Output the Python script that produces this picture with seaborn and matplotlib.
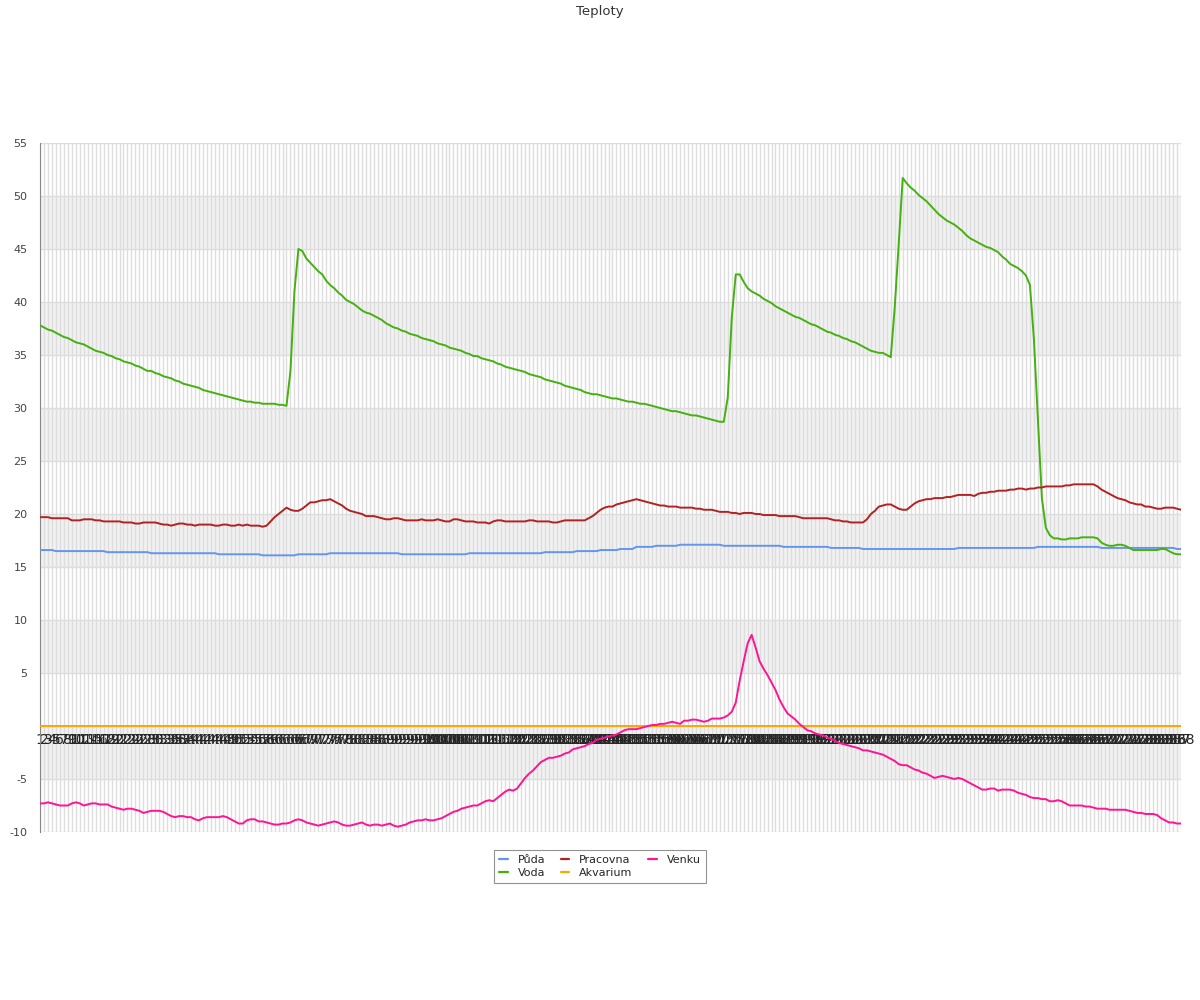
import matplotlib
matplotlib.use("Agg")
import matplotlib.pyplot as plt
import pandas as pd
import seaborn as sns
from matplotlib.ticker import MultipleLocator

# x categories: measurement number 1..288
labels = [str(n) for n in range(1, 289)]

puda = [
    16.6, 16.6, 16.6, 16.6, 16.5, 16.5, 16.5, 16.5, 16.5, 16.5,
    16.5, 16.5, 16.5, 16.5, 16.5, 16.5, 16.5, 16.4, 16.4, 16.4,
    16.4, 16.4, 16.4, 16.4, 16.4, 16.4, 16.4, 16.4, 16.3, 16.3,
    16.3, 16.3, 16.3, 16.3, 16.3, 16.3, 16.3, 16.3, 16.3, 16.3,
    16.3, 16.3, 16.3, 16.3, 16.3, 16.2, 16.2, 16.2, 16.2, 16.2,
    16.2, 16.2, 16.2, 16.2, 16.2, 16.2, 16.1, 16.1, 16.1, 16.1,
    16.1, 16.1, 16.1, 16.1, 16.1, 16.2, 16.2, 16.2, 16.2, 16.2,
    16.2, 16.2, 16.2, 16.3, 16.3, 16.3, 16.3, 16.3, 16.3, 16.3,
    16.3, 16.3, 16.3, 16.3, 16.3, 16.3, 16.3, 16.3, 16.3, 16.3,
    16.3, 16.2, 16.2, 16.2, 16.2, 16.2, 16.2, 16.2, 16.2, 16.2,
    16.2, 16.2, 16.2, 16.2, 16.2, 16.2, 16.2, 16.2, 16.3, 16.3,
    16.3, 16.3, 16.3, 16.3, 16.3, 16.3, 16.3, 16.3, 16.3, 16.3,
    16.3, 16.3, 16.3, 16.3, 16.3, 16.3, 16.3, 16.4, 16.4, 16.4,
    16.4, 16.4, 16.4, 16.4, 16.4, 16.5, 16.5, 16.5, 16.5, 16.5,
    16.5, 16.6, 16.6, 16.6, 16.6, 16.6, 16.7, 16.7, 16.7, 16.7,
    16.9, 16.9, 16.9, 16.9, 16.9, 17.0, 17.0, 17.0, 17.0, 17.0,
    17.0, 17.1, 17.1, 17.1, 17.1, 17.1, 17.1, 17.1, 17.1, 17.1,
    17.1, 17.1, 17.0, 17.0, 17.0, 17.0, 17.0, 17.0, 17.0, 17.0,
    17.0, 17.0, 17.0, 17.0, 17.0, 17.0, 17.0, 16.9, 16.9, 16.9,
    16.9, 16.9, 16.9, 16.9, 16.9, 16.9, 16.9, 16.9, 16.9, 16.8,
    16.8, 16.8, 16.8, 16.8, 16.8, 16.8, 16.8, 16.7, 16.7, 16.7,
    16.7, 16.7, 16.7, 16.7, 16.7, 16.7, 16.7, 16.7, 16.7, 16.7,
    16.7, 16.7, 16.7, 16.7, 16.7, 16.7, 16.7, 16.7, 16.7, 16.7,
    16.7, 16.8, 16.8, 16.8, 16.8, 16.8, 16.8, 16.8, 16.8, 16.8,
    16.8, 16.8, 16.8, 16.8, 16.8, 16.8, 16.8, 16.8, 16.8, 16.8,
    16.8, 16.9, 16.9, 16.9, 16.9, 16.9, 16.9, 16.9, 16.9, 16.9,
    16.9, 16.9, 16.9, 16.9, 16.9, 16.9, 16.9, 16.8, 16.8, 16.8,
    16.8, 16.8, 16.8, 16.8, 16.8, 16.8, 16.8, 16.8, 16.8, 16.8,
    16.8, 16.8, 16.8, 16.8, 16.8, 16.8, 16.7, 16.7,
]

voda = [
    37.8, 37.6, 37.4, 37.3, 37.1, 36.9, 36.7, 36.6, 36.4, 36.2,
    36.1, 36.0, 35.8, 35.6, 35.4, 35.3, 35.2, 35.0, 34.9, 34.7,
    34.6, 34.4, 34.3, 34.2, 34.0, 33.9, 33.7, 33.5, 33.5, 33.3,
    33.2, 33.0, 32.9, 32.8, 32.6, 32.5, 32.3, 32.2, 32.1, 32.0,
    31.9, 31.7, 31.6, 31.5, 31.4, 31.3, 31.2, 31.1, 31.0, 30.9,
    30.8, 30.7, 30.6, 30.6, 30.5, 30.5, 30.4, 30.4, 30.4, 30.4,
    30.3, 30.3, 30.2, 33.5, 41.0, 45.0, 44.8, 44.1, 43.7, 43.3,
    42.9, 42.6, 42.0, 41.6, 41.3, 40.9, 40.6, 40.2, 40.0, 39.8,
    39.5, 39.2, 39.0, 38.9, 38.7, 38.5, 38.3, 38.0, 37.8, 37.6,
    37.5, 37.3, 37.2, 37.0, 36.9, 36.8, 36.6, 36.5, 36.4, 36.3,
    36.1, 36.0, 35.9, 35.7, 35.6, 35.5, 35.4, 35.2, 35.1, 34.9,
    34.9, 34.7, 34.6, 34.5, 34.4, 34.2, 34.1, 33.9, 33.8, 33.7,
    33.6, 33.5, 33.4, 33.2, 33.1, 33.0, 32.9, 32.7, 32.6, 32.5,
    32.4, 32.3, 32.1, 32.0, 31.9, 31.8, 31.7, 31.5, 31.4, 31.3,
    31.3, 31.2, 31.1, 31.0, 30.9, 30.9, 30.8, 30.7, 30.6, 30.6,
    30.5, 30.4, 30.4, 30.3, 30.2, 30.1, 30.0, 29.9, 29.8, 29.7,
    29.7, 29.6, 29.5, 29.4, 29.3, 29.3, 29.2, 29.1, 29.0, 28.9,
    28.8, 28.7, 28.7, 31.0, 38.5, 42.6, 42.6, 41.9, 41.3, 41.0,
    40.8, 40.6, 40.3, 40.1, 39.9, 39.6, 39.4, 39.2, 39.0, 38.8,
    38.6, 38.5, 38.3, 38.1, 37.9, 37.8, 37.6, 37.4, 37.2, 37.1,
    36.9, 36.8, 36.6, 36.5, 36.3, 36.2, 36.0, 35.8, 35.6, 35.4,
    35.3, 35.2, 35.2, 35.0, 34.8, 39.5, 45.5, 51.7, 51.2, 50.8,
    50.5, 50.1, 49.8, 49.5, 49.1, 48.7, 48.3, 48.0, 47.7, 47.5,
    47.3, 47.0, 46.7, 46.3, 46.0, 45.8, 45.6, 45.4, 45.2, 45.1,
    44.9, 44.7, 44.3, 44.0, 43.6, 43.4, 43.2, 42.9, 42.5, 41.6,
    36.5, 29.0, 21.5, 18.7, 18.0, 17.7, 17.7, 17.6, 17.6, 17.7,
    17.7, 17.7, 17.8, 17.8, 17.8, 17.8, 17.7, 17.3, 17.1, 17.0,
    17.0, 17.1, 17.1, 17.0, 16.8, 16.6, 16.6, 16.6, 16.6, 16.6,
    16.6, 16.6, 16.7, 16.7, 16.5, 16.3, 16.2, 16.2,
]

pracovna = [
    19.7, 19.7, 19.7, 19.6, 19.6, 19.6, 19.6, 19.6, 19.4, 19.4,
    19.4, 19.5, 19.5, 19.5, 19.4, 19.4, 19.3, 19.3, 19.3, 19.3,
    19.3, 19.2, 19.2, 19.2, 19.1, 19.1, 19.2, 19.2, 19.2, 19.2,
    19.1, 19.0, 19.0, 18.9, 19.0, 19.1, 19.1, 19.0, 19.0, 18.9,
    19.0, 19.0, 19.0, 19.0, 18.9, 18.9, 19.0, 19.0, 18.9, 18.9,
    19.0, 18.9, 19.0, 18.9, 18.9, 18.9, 18.8, 18.9, 19.3, 19.7,
    20.0, 20.3, 20.6, 20.4, 20.3, 20.3, 20.5, 20.8, 21.1, 21.1,
    21.2, 21.3, 21.3, 21.4, 21.2, 21.0, 20.8, 20.5, 20.3, 20.2,
    20.1, 20.0, 19.8, 19.8, 19.8, 19.7, 19.6, 19.5, 19.5, 19.6,
    19.6, 19.5, 19.4, 19.4, 19.4, 19.4, 19.5, 19.4, 19.4, 19.4,
    19.5, 19.4, 19.3, 19.3, 19.5, 19.5, 19.4, 19.3, 19.3, 19.3,
    19.2, 19.2, 19.2, 19.1, 19.3, 19.4, 19.4, 19.3, 19.3, 19.3,
    19.3, 19.3, 19.3, 19.4, 19.4, 19.3, 19.3, 19.3, 19.3, 19.2,
    19.2, 19.3, 19.4, 19.4, 19.4, 19.4, 19.4, 19.4, 19.6, 19.8,
    20.1, 20.4, 20.6, 20.7, 20.7, 20.9, 21.0, 21.1, 21.2, 21.3,
    21.4, 21.3, 21.2, 21.1, 21.0, 20.9, 20.8, 20.8, 20.7, 20.7,
    20.7, 20.6, 20.6, 20.6, 20.6, 20.5, 20.5, 20.4, 20.4, 20.4,
    20.3, 20.2, 20.2, 20.2, 20.1, 20.1, 20.0, 20.1, 20.1, 20.1,
    20.0, 20.0, 19.9, 19.9, 19.9, 19.9, 19.8, 19.8, 19.8, 19.8,
    19.8, 19.7, 19.6, 19.6, 19.6, 19.6, 19.6, 19.6, 19.6, 19.5,
    19.4, 19.4, 19.3, 19.3, 19.2, 19.2, 19.2, 19.2, 19.5, 20.0,
    20.3, 20.7, 20.8, 20.9, 20.9, 20.7, 20.5, 20.4, 20.4, 20.7,
    21.0, 21.2, 21.3, 21.4, 21.4, 21.5, 21.5, 21.5, 21.6, 21.6,
    21.7, 21.8, 21.8, 21.8, 21.8, 21.7, 21.9, 22.0, 22.0, 22.1,
    22.1, 22.2, 22.2, 22.2, 22.3, 22.3, 22.4, 22.4, 22.3, 22.4,
    22.4, 22.5, 22.5, 22.6, 22.6, 22.6, 22.6, 22.6, 22.7, 22.7,
    22.8, 22.8, 22.8, 22.8, 22.8, 22.8, 22.6, 22.3, 22.1, 21.9,
    21.7, 21.5, 21.4, 21.3, 21.1, 21.0, 20.9, 20.9, 20.7, 20.7,
    20.6, 20.5, 20.5, 20.6, 20.6, 20.6, 20.5, 20.4,
]

akvarium = [
    0.0, 0.0, 0.0, 0.0, 0.0, 0.0, 0.0, 0.0, 0.0, 0.0, 0.0, 0.0, 0.0, 0.0, 0.0, 0.0, 0.0, 0.0, 0.0, 0.0, 0.0, 0.0, 0.0, 0.0,
    0.0, 0.0, 0.0, 0.0, 0.0, 0.0, 0.0, 0.0, 0.0, 0.0, 0.0, 0.0, 0.0, 0.0, 0.0, 0.0, 0.0, 0.0, 0.0, 0.0, 0.0, 0.0, 0.0, 0.0,
    0.0, 0.0, 0.0, 0.0, 0.0, 0.0, 0.0, 0.0, 0.0, 0.0, 0.0, 0.0, 0.0, 0.0, 0.0, 0.0, 0.0, 0.0, 0.0, 0.0, 0.0, 0.0, 0.0, 0.0,
    0.0, 0.0, 0.0, 0.0, 0.0, 0.0, 0.0, 0.0, 0.0, 0.0, 0.0, 0.0, 0.0, 0.0, 0.0, 0.0, 0.0, 0.0, 0.0, 0.0, 0.0, 0.0, 0.0, 0.0,
    0.0, 0.0, 0.0, 0.0, 0.0, 0.0, 0.0, 0.0, 0.0, 0.0, 0.0, 0.0, 0.0, 0.0, 0.0, 0.0, 0.0, 0.0, 0.0, 0.0, 0.0, 0.0, 0.0, 0.0,
    0.0, 0.0, 0.0, 0.0, 0.0, 0.0, 0.0, 0.0, 0.0, 0.0, 0.0, 0.0, 0.0, 0.0, 0.0, 0.0, 0.0, 0.0, 0.0, 0.0, 0.0, 0.0, 0.0, 0.0,
    0.0, 0.0, 0.0, 0.0, 0.0, 0.0, 0.0, 0.0, 0.0, 0.0, 0.0, 0.0, 0.0, 0.0, 0.0, 0.0, 0.0, 0.0, 0.0, 0.0, 0.0, 0.0, 0.0, 0.0,
    0.0, 0.0, 0.0, 0.0, 0.0, 0.0, 0.0, 0.0, 0.0, 0.0, 0.0, 0.0, 0.0, 0.0, 0.0, 0.0, 0.0, 0.0, 0.0, 0.0, 0.0, 0.0, 0.0, 0.0,
    0.0, 0.0, 0.0, 0.0, 0.0, 0.0, 0.0, 0.0, 0.0, 0.0, 0.0, 0.0, 0.0, 0.0, 0.0, 0.0, 0.0, 0.0, 0.0, 0.0, 0.0, 0.0, 0.0, 0.0,
    0.0, 0.0, 0.0, 0.0, 0.0, 0.0, 0.0, 0.0, 0.0, 0.0, 0.0, 0.0, 0.0, 0.0, 0.0, 0.0, 0.0, 0.0, 0.0, 0.0, 0.0, 0.0, 0.0, 0.0,
    0.0, 0.0, 0.0, 0.0, 0.0, 0.0, 0.0, 0.0, 0.0, 0.0, 0.0, 0.0, 0.0, 0.0, 0.0, 0.0, 0.0, 0.0, 0.0, 0.0, 0.0, 0.0, 0.0, 0.0,
    0.0, 0.0, 0.0, 0.0, 0.0, 0.0, 0.0, 0.0, 0.0, 0.0, 0.0, 0.0, 0.0, 0.0, 0.0, 0.0, 0.0, 0.0, 0.0, 0.0, 0.0, 0.0, 0.0, 0.0,
]

venku = [
    -7.3, -7.3, -7.2, -7.3, -7.4, -7.5, -7.5, -7.5, -7.3, -7.2,
    -7.3, -7.5, -7.4, -7.3, -7.3, -7.4, -7.4, -7.4, -7.6, -7.7,
    -7.8, -7.9, -7.8, -7.8, -7.9, -8.0, -8.2, -8.1, -8.0, -8.0,
    -8.0, -8.1, -8.3, -8.5, -8.6, -8.5, -8.5, -8.6, -8.6, -8.8,
    -8.9, -8.7, -8.6, -8.6, -8.6, -8.6, -8.5, -8.6, -8.8, -9.0,
    -9.2, -9.2, -8.9, -8.8, -8.8, -9.0, -9.0, -9.1, -9.2, -9.3,
    -9.3, -9.2, -9.2, -9.1, -8.9, -8.8, -8.9, -9.1, -9.2, -9.3,
    -9.4, -9.3, -9.2, -9.1, -9.0, -9.1, -9.3, -9.4, -9.4, -9.3,
    -9.2, -9.1, -9.3, -9.4, -9.3, -9.3, -9.4, -9.3, -9.2, -9.4,
    -9.5, -9.4, -9.3, -9.1, -9.0, -8.9, -8.9, -8.8, -8.9, -8.9,
    -8.8, -8.7, -8.5, -8.3, -8.1, -8.0, -7.8, -7.7, -7.6, -7.5,
    -7.5, -7.3, -7.1, -7.0, -7.1, -6.8, -6.5, -6.2, -6.0, -6.1,
    -5.9, -5.4, -4.9, -4.5, -4.2, -3.8, -3.4, -3.2, -3.0, -3.0,
    -2.9, -2.8, -2.6, -2.5, -2.2, -2.1, -2.0, -1.9, -1.7, -1.6,
    -1.3, -1.2, -1.1, -1.0, -0.9, -0.8, -0.6, -0.4, -0.3, -0.3,
    -0.3, -0.2, -0.1, 0.0, 0.1, 0.1, 0.2, 0.2, 0.3, 0.4,
    0.3, 0.2, 0.5, 0.5, 0.6, 0.6, 0.5, 0.4, 0.5, 0.7,
    0.7, 0.7, 0.8, 1.0, 1.35, 2.2, 4.3, 6.1, 7.8, 8.6,
    7.4, 6.1, 5.4, 4.8, 4.1, 3.4, 2.5, 1.8, 1.2, 0.9,
    0.6, 0.2, -0.1, -0.4, -0.5, -0.7, -0.8, -0.9, -1.1, -1.2,
    -1.4, -1.6, -1.7, -1.8, -1.9, -2.0, -2.1, -2.3, -2.3, -2.4,
    -2.5, -2.6, -2.7, -2.9, -3.1, -3.3, -3.6, -3.7, -3.7, -3.9,
    -4.1, -4.2, -4.4, -4.5, -4.7, -4.9, -4.8, -4.7, -4.8, -4.9,
    -5.0, -4.9, -5.0, -5.2, -5.4, -5.6, -5.8, -6.0, -6.0, -5.9,
    -5.9, -6.1, -6.0, -6.0, -6.0, -6.1, -6.3, -6.4, -6.5, -6.7,
    -6.8, -6.8, -6.9, -6.9, -7.1, -7.1, -7.0, -7.1, -7.3, -7.5,
    -7.5, -7.5, -7.5, -7.6, -7.6, -7.7, -7.8, -7.8, -7.8, -7.9,
    -7.9, -7.9, -7.9, -7.9, -8.0, -8.1, -8.2, -8.2, -8.3, -8.3,
    -8.3, -8.4, -8.7, -8.9, -9.1, -9.1, -9.2, -9.2,
]

series = {
    "Půda": puda,
    "Voda": voda,
    "Pracovna": pracovna,
    "Akvarium": akvarium,
    "Venku": venku,
}
colors = {
    "Půda": "#6495ed",
    "Voda": "#45b010",
    "Pracovna": "#b22222",
    "Akvarium": "#ffa500",
    "Venku": "#ff1493",
}

frames = []
for name, vals in series.items():
    assert len(vals) == len(labels), (name, len(vals))
    frames.append(pd.DataFrame({"idx": range(len(vals)), "teplota": vals, "cidlo": name}))
df = pd.concat(frames, ignore_index=True)

sns.set_style("white")
plt.rcParams["font.family"] = ["DejaVu Sans"]

fig = plt.figure(figsize=(12, 10), dpi=100)
ax = fig.add_axes([40 / 1200, 0.168, 1141 / 1200, 0.689])

# alternating grey bands
for lo in (-5, 5, 15, 25, 35, 45):
    ax.axhspan(lo, lo + 5, color="#f2f2f2", lw=0, zorder=0.1)

sns.lineplot(data=df, x="idx", y="teplota", hue="cidlo", hue_order=list(series),
             palette=colors, linewidth=1.4, errorbar=None, ax=ax, zorder=3)

ax.set_xlim(0, len(labels) - 1)
ax.set_ylim(-10, 55)
ax.set_xticks(range(len(labels)))
ax.set_xticklabels(labels, fontsize=8, color="#444444")
yt = list(range(-10, 56, 5))
ax.set_yticks(yt)
ax.set_yticklabels(["" if v == 0 else str(v) for v in yt], fontsize=8, color="#444444")
ax.yaxis.set_minor_locator(MultipleLocator(1))
ax.tick_params(axis="y", which="major", length=6, color="#888888", pad=3)
ax.tick_params(axis="y", which="minor", length=4, color="#888888")
ax.tick_params(axis="x", length=0, pad=5)

# category labels sit on the zero line
ax.spines["bottom"].set_position(("data", 0))
ax.spines["bottom"].set_visible(False)
ax.spines["top"].set_visible(False)
ax.spines["right"].set_visible(False)
ax.spines["left"].set_color("#888888")
ax.grid(True, which="major", color="#dddddd", linewidth=1)
ax.set_axisbelow(True)
ax.set_xlabel("")
ax.set_ylabel("")

handles, names = ax.get_legend_handles_labels()
ax.get_legend().remove()
leg = fig.legend(handles, names, ncol=3, loc="upper center", bbox_to_anchor=(0.5, 0.15),
                 borderaxespad=0, frameon=True, fancybox=False, edgecolor="#777777",
                 fontsize=8, handlelength=0.75, handletextpad=0.9, columnspacing=1.4,
                 borderpad=0.45, labelspacing=0.25)
leg.get_frame().set_linewidth(0.8)
for h in leg.legend_handles:
    h.set_linewidth(1.6)

fig.text(0.5, 0.989, "Teploty", ha="center", va="center", fontsize=9.5, color="#333333")

fig.savefig("out.png", dpi=100)
